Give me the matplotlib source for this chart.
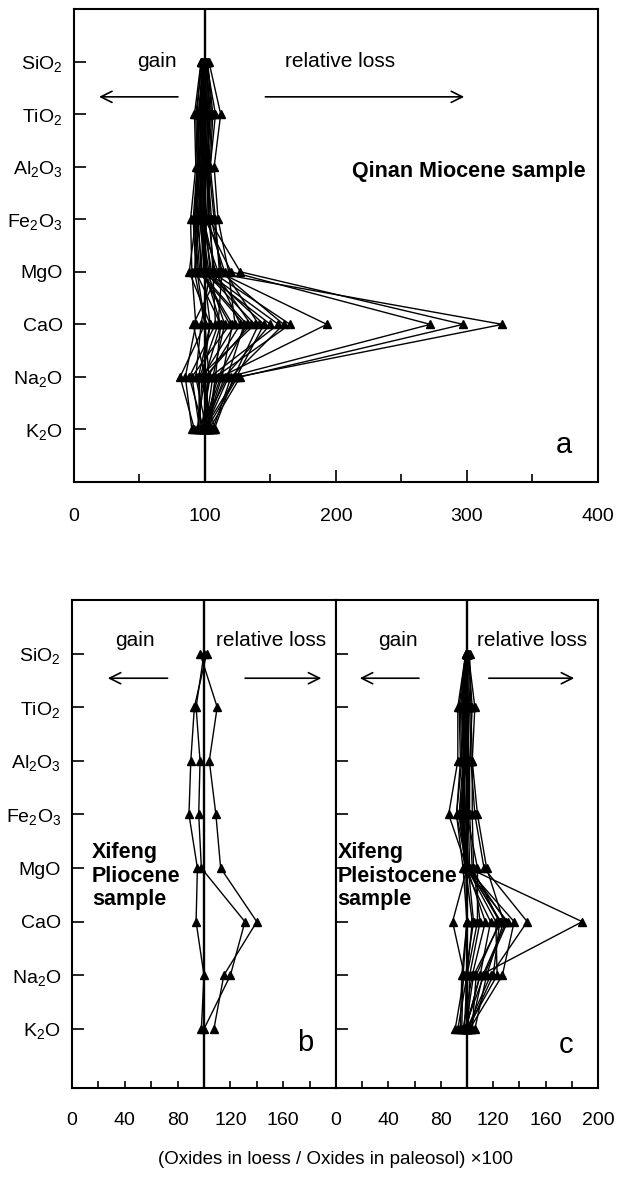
import matplotlib
matplotlib.use("Agg")
import matplotlib.pyplot as plt
import numpy as np

plt.rcParams['font.family'] = ['Liberation Sans', 'DejaVu Sans']
plt.rcParams['mathtext.fontset'] = 'custom'
plt.rcParams['mathtext.rm'] = 'Liberation Sans'
plt.rcParams['mathtext.it'] = 'Liberation Sans'
plt.rcParams['mathtext.bf'] = 'Liberation Sans:bold'

oxides = ['SiO$_2$', 'TiO$_2$', 'Al$_2$O$_3$', 'Fe$_2$O$_3$', 'MgO', 'CaO', 'Na$_2$O', 'K$_2$O']

# each row: one loess/paleosol pair, values in oxide order above
qinan_miocene = [
    [100, 98, 99, 97, 103, 327, 125, 101],
    [101, 104, 102, 103, 127, 297, 127, 103],
    [99, 102, 101, 100, 120, 272, 118, 100],
    [100, 99, 97, 96, 110, 193, 112, 98],
    [98, 96, 98, 99, 105, 165, 108, 104],
    [102, 105, 103, 107, 112, 160, 120, 106],
    [100, 101, 100, 98, 101, 156, 104, 97],
    [99, 95, 96, 94, 98, 150, 115, 100],
    [101, 108, 104, 102, 115, 141, 122, 107],
    [100, 97, 99, 96, 100, 138, 96, 95],
    [97, 94, 95, 93, 96, 132, 110, 99],
    [100, 100, 101, 99, 108, 127, 102, 101],
    [103, 112, 107, 110, 118, 123, 98, 105],
    [99, 96, 97, 95, 97, 119, 90, 96],
    [100, 99, 98, 97, 102, 115, 106, 100],
    [98, 93, 94, 91, 93, 112, 100, 94],
    [101, 103, 102, 104, 106, 108, 88, 99],
    [100, 98, 100, 98, 99, 104, 95, 97],
    [99, 95, 95, 92, 94, 100, 81, 92],
    [100, 101, 99, 100, 104, 97, 93, 101],
    [97, 92, 93, 89, 90, 93, 85, 90],
    [102, 106, 104, 108, 111, 91, 100, 103],
    [100, 99, 97, 95, 92, 100, 103, 98],
    [99, 97, 96, 93, 88, 104, 98, 95],
    [101, 102, 103, 101, 100, 112, 108, 102],
    [100, 100, 100, 99, 97, 121, 113, 100],
    [98, 96, 94, 92, 95, 130, 117, 97],
    [101, 104, 101, 103, 107, 135, 100, 104],
    [100, 97, 98, 96, 101, 145, 124, 99],
    [99, 100, 102, 105, 113, 110, 96, 108],
]

xifeng_pliocene = [
    [97, 110, 104, 109, 112.6, 140, 115, 107.5],
    [100, 94, 97, 96, 98, 131, 120, 100],
    [102, 92.7, 90, 88.6, 95, 94, 100, 98],
]

xifeng_pleistocene = [
    [100, 97, 98, 95, 101, 188, 110, 99],
    [101, 102, 103, 106, 113, 146, 118, 100],
    [100, 99, 98, 97, 100, 136, 127, 102],
    [99, 96, 97, 94, 99, 131, 113, 98],
    [100, 100, 100, 99, 101, 125, 120, 101],
    [101, 104, 102, 102, 104, 125, 107, 104],
    [100, 98, 99, 97, 100, 114, 104, 97],
    [100, 101, 101, 100, 108, 108, 100, 100],
    [99, 95, 96, 92, 97, 100, 96, 95],
    [100, 99, 97, 96, 99, 100, 100, 93],
    [99, 93, 93, 86, 100, 89, 98, 91],
    [101, 106, 104, 108, 115, 128, 115, 106],
    [100, 97, 99, 96, 98, 118, 110, 99],
    [100, 100, 98, 98, 100, 122, 123, 100],
    [102, 103, 104, 104, 105, 110, 102, 101],
    [99, 94, 95, 92, 100, 100, 97, 96],
    [100, 99, 100, 99, 101, 105, 99, 100],
    [101, 98, 101, 101, 102, 130, 112, 103],
    [100, 96, 98, 97, 99, 104, 100, 98],
    [100, 101, 100, 94, 100, 126, 105, 99],
]

ypos = np.arange(1, len(oxides) + 1)

fig = plt.figure(figsize=(6.18, 11.8), dpi=100)
ax_a = fig.add_axes([0.1197, 0.5915, 0.8479, 0.4008])
ax_b = fig.add_axes([0.1165, 0.0780, 0.4272, 0.4136])
ax_c = fig.add_axes([0.5437, 0.0780, 0.4239, 0.4136])


def draw_samples(ax, rows):
    for row in rows:
        ax.plot(row, ypos, color='black', lw=1.0, marker='^', ms=5.5,
                mfc='black', mec='black', zorder=3)
    ax.axvline(100, color='black', lw=1.7, zorder=2)
    for s in ax.spines.values():
        s.set_linewidth(1.5)


def arrows(ax, ytxt, yarr, gx, lx, g_from, g_to, l_from, l_to):
    ax.text(gx, ytxt, 'gain', ha='center', va='center', fontsize=15)
    ax.text(lx, ytxt, 'relative loss', ha='center', va='center', fontsize=15)
    kw = dict(arrowstyle='->', lw=1.2, color='black', mutation_scale=20)
    ax.annotate('', xy=(g_to, yarr), xytext=(g_from, yarr), arrowprops=kw)
    ax.annotate('', xy=(l_to, yarr), xytext=(l_from, yarr), arrowprops=kw)


# panel a
draw_samples(ax_a, qinan_miocene)
ax_a.set_xlim(0, 400)
ax_a.set_ylim(9, 0)
ax_a.set_yticks(ypos)
ax_a.set_yticklabels(oxides, fontsize=14)
ax_a.set_xticks([0, 100, 200, 300, 400])
ax_a.set_xticks([50, 150, 250, 350], minor=True)
ax_a.tick_params(axis='x', which='major', direction='in', length=8.5, width=1.2,
                 labelsize=14, pad=19)
ax_a.tick_params(axis='x', which='minor', direction='in', length=5.5, width=1.2)
ax_a.tick_params(axis='y', direction='in', length=8.5, width=1.2, pad=8)
arrows(ax_a, 1.0, 1.67, 63, 203, 81.5, 17, 144, 300)
ax_a.text(212, 3.1, 'Qinan Miocene sample', fontsize=15.5, fontweight='bold',
          ha='left', va='center')
ax_a.text(374, 8.3, 'a', fontsize=21, ha='center', va='center')

# panels b and c
for ax, rows in [(ax_b, xifeng_pliocene), (ax_c, xifeng_pleistocene)]:
    draw_samples(ax, rows)
    ax.set_xlim(0, 200)
    ax.set_ylim(9.1, 0)
    ax.set_yticks(ypos)
    ax.set_xticks(np.arange(0, 201, 20), minor=True)
    ax.tick_params(axis='x', which='both', direction='in', length=5, width=1.2,
                   labelsize=14, pad=17)
    ax.tick_params(axis='y', direction='in', length=8.5, width=1.2, pad=8)

ax_b.set_xticks([0, 40, 80, 120, 160])
ax_b.set_yticklabels(oxides, fontsize=14)
ax_c.set_xticks([0, 40, 80, 120, 160, 200])
ax_c.set_yticklabels([])

arrows(ax_b, 0.76, 1.46, 48, 150.5, 74.5, 25, 129, 191)
arrows(ax_c, 0.76, 1.46, 47, 150, 65.5, 16, 114.5, 184)

ax_b.text(15, 5.15, 'Xifeng\nPliocene\nsample', fontsize=15.5, fontweight='bold',
          ha='left', va='center', linespacing=1.15)
ax_c.text(1.2, 5.15, 'Xifeng\nPleistocene\nsample', fontsize=15.5, fontweight='bold',
          ha='left', va='center', linespacing=1.15)
ax_b.text(177, 8.26, 'b', fontsize=21, ha='center', va='center')
ax_c.text(176, 8.3, 'c', fontsize=21, ha='center', va='center')

fig.text(0.543, 1 - 1160 / 1180, '(Oxides in loess / Oxides in paleosol) \u00d7100',
         ha='center', va='center', fontsize=13.5)

fig.savefig('out.png', dpi=100)
